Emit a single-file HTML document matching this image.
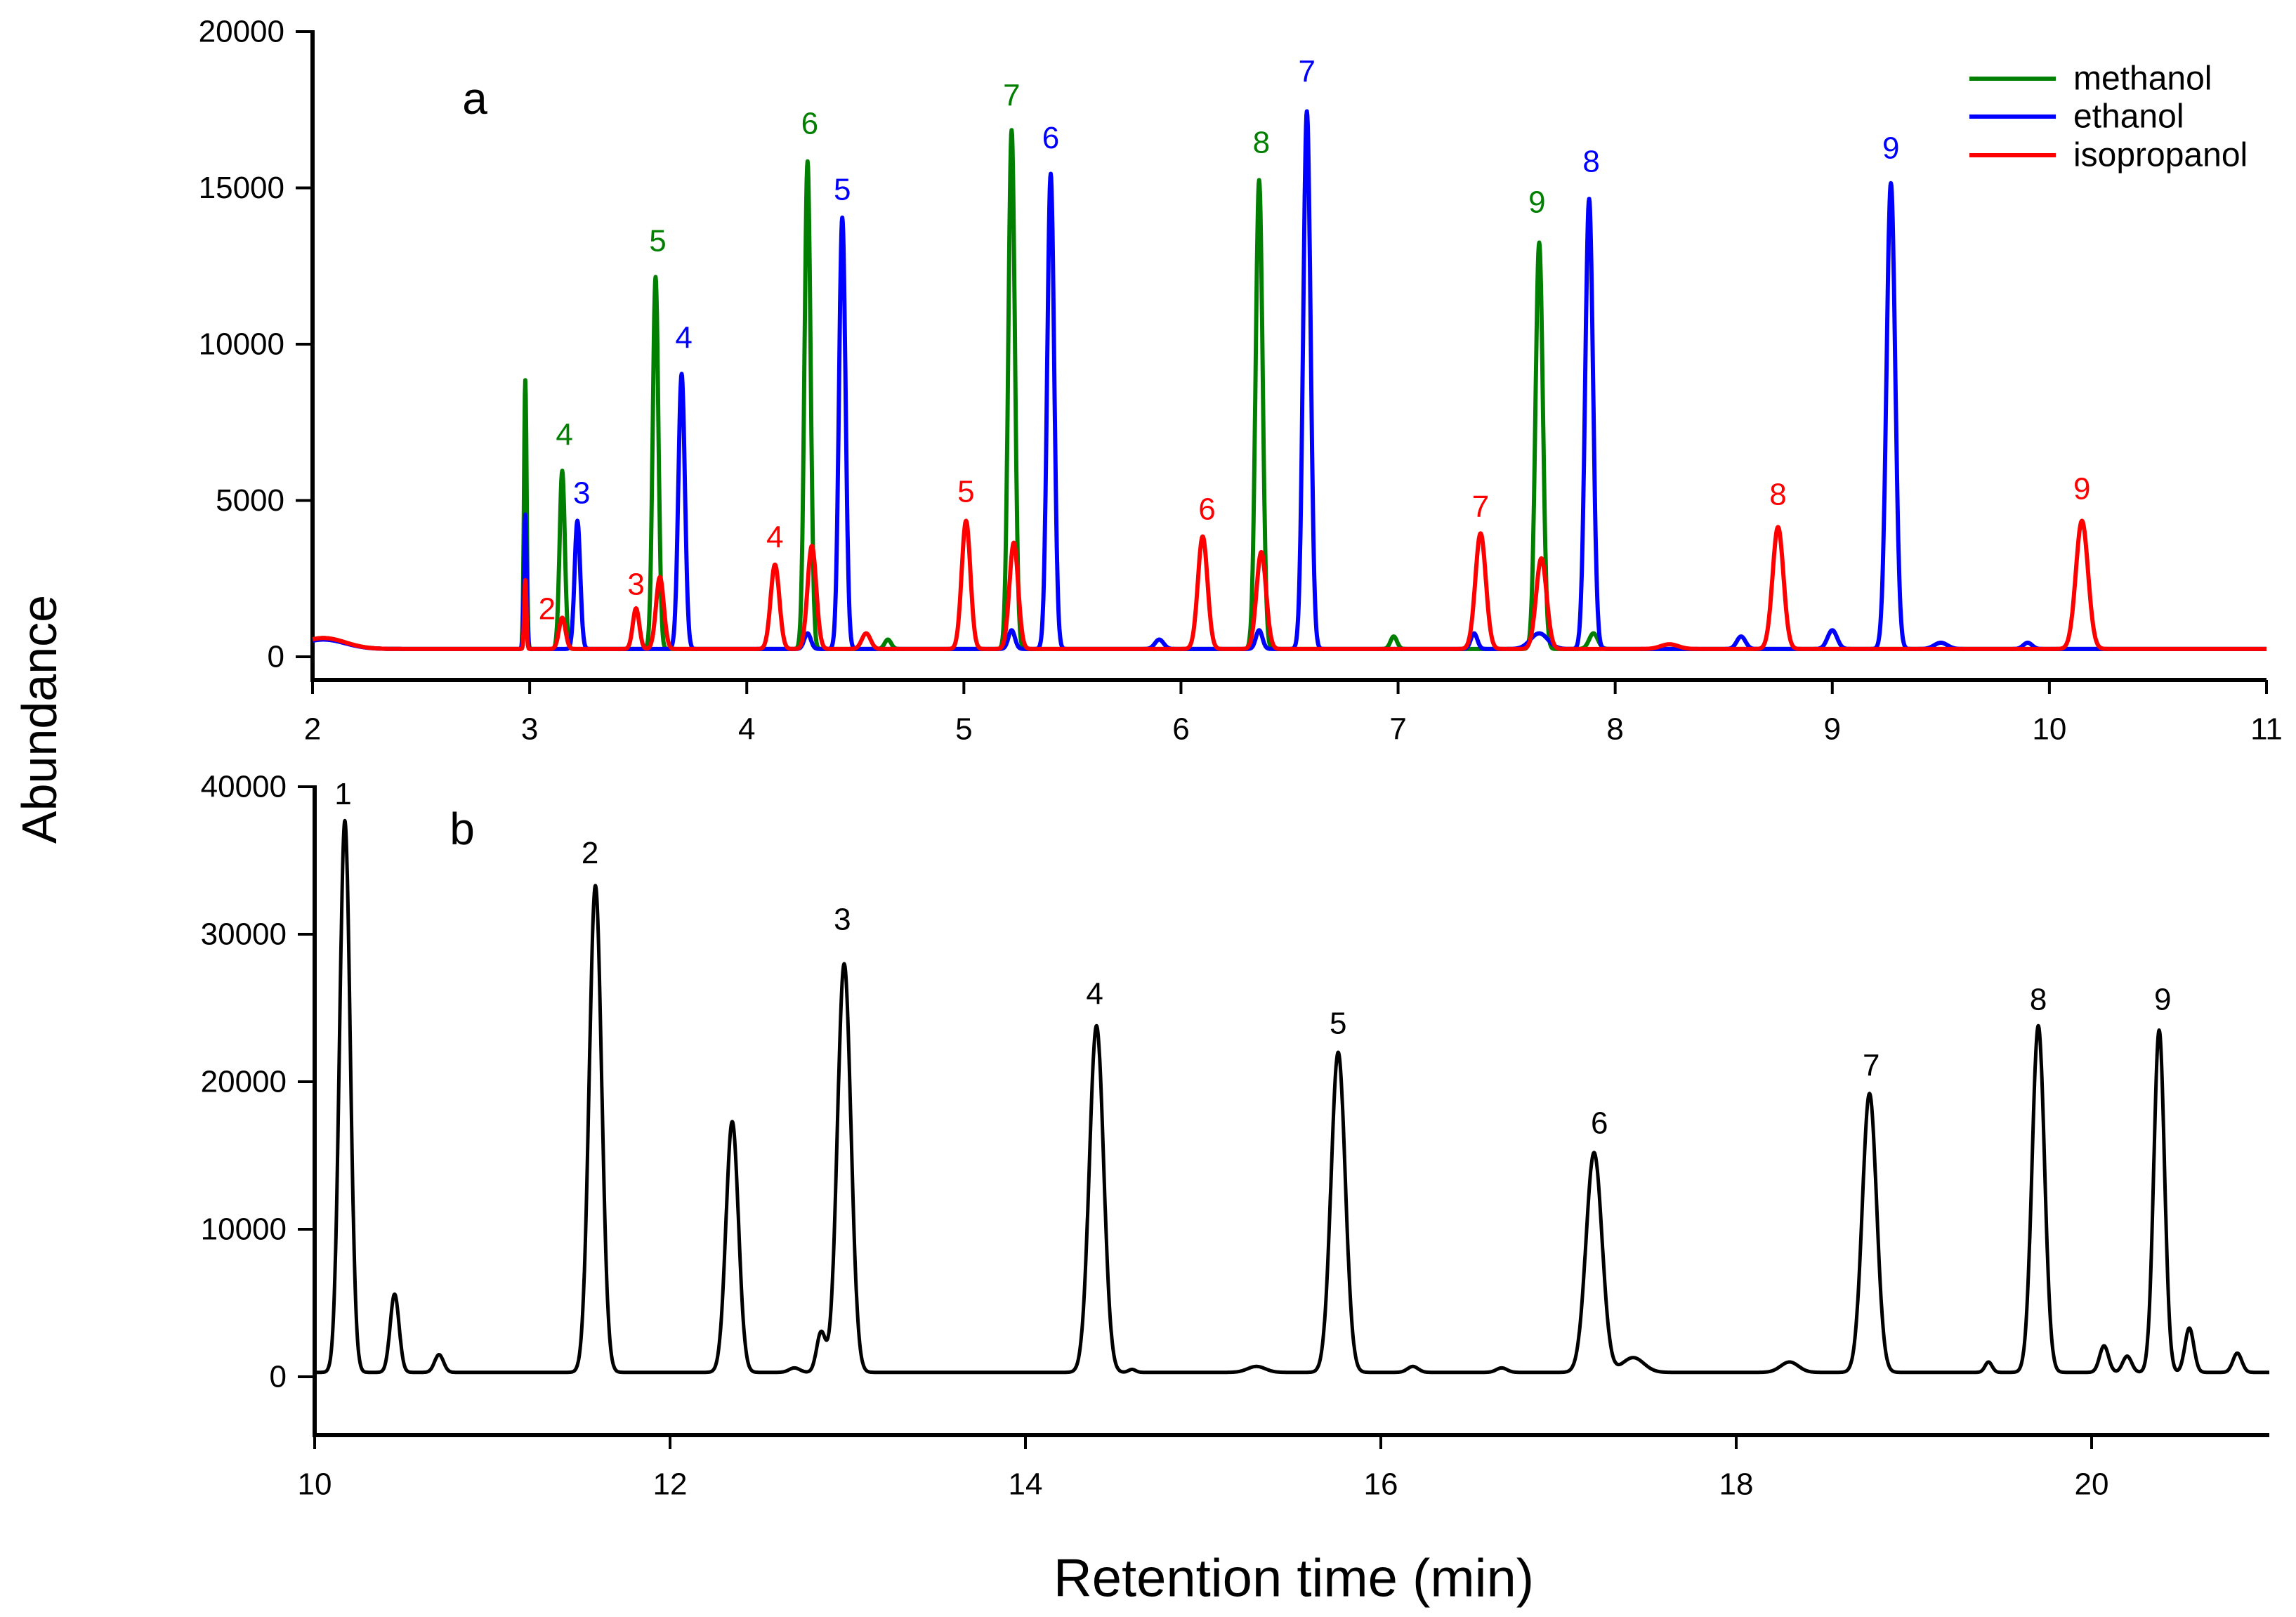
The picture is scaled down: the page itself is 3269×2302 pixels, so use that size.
<!DOCTYPE html>
<html><head><meta charset="utf-8">
<style>
html,body{margin:0;padding:0;background:#fff;}
svg{display:block;}
text{font-family:"Liberation Sans",Arial,sans-serif;}
</style></head>
<body>
<svg id="chart" width="3269" height="2302" viewBox="0 0 3269 2302" xmlns="http://www.w3.org/2000/svg">
<g id="panelA"></g>
<g id="panelB"></g>
<text x="56" y="1024" font-size="70" text-anchor="middle" dominant-baseline="central" transform="rotate(-90 56 1024)">Abundance</text>
<text x="1842" y="2247" font-size="76" text-anchor="middle" dominant-baseline="central">Retention time (min)</text>
<g>
  <line x1="2804" y1="112" x2="2927" y2="112" stroke="#007f00" stroke-width="6"/>
  <text x="2952" y="112" font-size="48" dominant-baseline="central">methanol</text>
  <line x1="2804" y1="166" x2="2927" y2="166" stroke="#0000ff" stroke-width="6"/>
  <text x="2952" y="166" font-size="48" dominant-baseline="central">ethanol</text>
  <line x1="2804" y1="221" x2="2927" y2="221" stroke="#ff0000" stroke-width="6"/>
  <text x="2952" y="221" font-size="48" dominant-baseline="central">isopropanol</text>
</g>
</svg>
<script>
// ---- Panel a data ----
const aXTicks = [2,3,4,5,6,7,8,9,10,11];
const aYTicks = [0,5000,10000,15000,20000];
const meTimes   = [2.05,2.98,3.15,3.58,4.28,4.65,5.22,6.36,6.98,7.65,7.90];
const meHeights = [350,8600,5700,11900,15600,300,16600,15000,400,13000,500];
const meWidths  = [0.1,0.006,0.012,0.013,0.014,0.015,0.015,0.016,0.015,0.017,0.02];
const etTimes   = [2.05,2.98,3.22,3.70,4.28,4.44,5.22,5.40,5.90,6.36,6.58,7.35,7.65,7.88,8.58,9.00,9.27,9.50,9.90];
const etHeights = [300,4300,4100,8800,500,13800,600,15200,300,600,17200,500,500,14400,400,600,14900,200,200];
const etWidths  = [0.1,0.006,0.013,0.015,0.015,0.015,0.015,0.016,0.02,0.015,0.017,0.015,0.04,0.018,0.02,0.022,0.02,0.03,0.02];
const ipTimes   = [2.05,2.98,3.15,3.49,3.60,4.13,4.30,4.55,5.01,5.23,6.10,6.37,7.38,7.66,8.25,8.75,10.15];
const ipHeights = [350,2200,1000,1300,2300,2700,3300,500,4100,3400,3600,3100,3700,2900,150,3900,4100];
const ipWidths  = [0.1,0.005,0.015,0.015,0.018,0.02,0.02,0.02,0.02,0.02,0.022,0.022,0.024,0.024,0.04,0.025,0.028];
const aBase = 250;
const meLabels = ["4","5","6","7","8","9"], meLabT = [3.16,3.59,4.29,5.22,6.37,7.64], meLabY = [7100,13300,17060,17950,16450,14540];
const etLabels = ["3","4","5","6","7","8","9"], etLabT = [3.24,3.71,4.44,5.40,6.58,7.89,9.27], etLabY = [5240,10200,14940,16600,18720,15840,16270];
const ipLabels = ["2","3","4","5","6","7","8","9"], ipLabT = [3.08,3.49,4.13,5.01,6.12,7.38,8.75,10.15], ipLabY = [1530,2310,3820,5280,4720,4800,5190,5370];
// ---- Panel b data ----
const bXTicks = [10,12,14,16,18,20];
const bYTicks = [0,10000,20000,30000,40000];
const bTimes   = [10.17,10.45,10.70,11.58,12.35,12.70,12.85,12.98,14.40,14.60,15.30,15.76,16.18,16.68,17.20,17.42,18.30,18.75,19.42,19.70,20.07,20.20,20.38,20.55,20.82];
const bHeights = [37400,5300,1200,33000,17000,300,2700,27700,23500,200,400,21700,400,300,14900,1000,700,18900,700,23500,1800,1100,23200,3000,1300];
const bWidths  = [0.03,0.025,0.025,0.035,0.035,0.03,0.025,0.038,0.04,0.02,0.05,0.04,0.03,0.03,0.045,0.06,0.05,0.04,0.02,0.035,0.025,0.025,0.03,0.025,0.025];
const bBase = 300;
const bLabels = ["1","2","3","4","5","6","7","8","9"];
const bLabT = [10.16,11.55,12.97,14.39,15.76,17.23,18.76,19.70,20.40];
const bLabY = [39500,35500,31000,25950,23950,17190,21100,25570,25570];

const NS = "http://www.w3.org/2000/svg";
function mk(tag, attrs, parent){const e=document.createElementNS(NS,tag);for(const k in attrs)e.setAttribute(k,attrs[k]);parent.appendChild(e);return e;}

const ax = {x0:445,x1:3227,t0:2,t1:11,y0:935,y1:45,v0:0,v1:20000,axisY:968};
const bx = {x0:448,x1:3231,t0:10,t1:21,y0:1960,y1:1120,v0:0,v1:40000,axisY:2043};
function sx(p,t){return p.x0+(t-p.t0)/(p.t1-p.t0)*(p.x1-p.x0);}
function sy(p,v){return p.y0+(v-p.v0)/(p.v1-p.v0)*(p.y1-p.y0);}

function signal(t,times,heights,widths,base){
  let v=base;
  for(let i=0;i<times.length;i++){const d=(t-times[i])/widths[i];v+=heights[i]*Math.exp(-0.5*d*d);}
  return v;
}
function trace(p,g,times,heights,widths,base,color,sw,name){
  let d="";
  for(let t=p.t0;t<=p.t1+1e-9;t+=0.002){
    const v=signal(t,times,heights,widths,base);
    d+=(d?"L":"M")+sx(p,t).toFixed(1)+" "+sy(p,v).toFixed(1);
  }
  const path=mk("path",{d:d,fill:"none",stroke:color,"stroke-width":sw,"stroke-linejoin":"round"},g);
  
  
}
function axes(p,g,xt,yt,prefix){
  const yl=mk("line",{x1:p.x0,y1:p.y1-2,x2:p.x0,y2:p.axisY,stroke:"#000","stroke-width":6},g);
  
  
  const xl=mk("line",{x1:p.x0-3,y1:p.axisY,x2:p.x1,y2:p.axisY,stroke:"#000","stroke-width":6},g);
  
  
  xt.forEach(t=>{
    const x=sx(p,t);
    const tk=mk("line",{x1:x,y1:p.axisY,x2:x,y2:p.axisY+20,stroke:"#000","stroke-width":4},g);
    
    
    const tx=mk("text",{x:x,y:p.axisY+70,"font-size":44,"text-anchor":"middle","dominant-baseline":"central"},g);
    tx.textContent=t;
    
    
  });
  yt.forEach(v=>{
    const y=sy(p,v);
    const tk=mk("line",{x1:p.x0-24,y1:y,x2:p.x0,y2:y,stroke:"#000","stroke-width":4},g);
    
    
    const tx=mk("text",{x:p.x0-40,y:y,"font-size":44,"text-anchor":"end","dominant-baseline":"central"},g);
    tx.textContent=v;
    
    
  });
}
function labels(p,g,txt,ts,vs,color,name){
  for(let i=0;i<txt.length;i++){
    const e=mk("text",{x:sx(p,ts[i]),y:sy(p,vs[i]),"font-size":44,"text-anchor":"middle","dominant-baseline":"central",fill:color},g);
    e.textContent=txt[i];
    
    
  }
}

const gA=document.getElementById("panelA");
axes(ax,gA,aXTicks,aYTicks,"panel-a");
trace(ax,gA,meTimes,meHeights,meWidths,aBase,"#007f00",6,"methanol-trace");
trace(ax,gA,etTimes,etHeights,etWidths,aBase,"#0000ff",6,"ethanol-trace");
trace(ax,gA,ipTimes,ipHeights,ipWidths,aBase,"#ff0000",6,"isopropanol-trace");
labels(ax,gA,meLabels,meLabT,meLabY,"#007f00","methanol-peak-label");
labels(ax,gA,etLabels,etLabT,etLabY,"#0000ff","ethanol-peak-label");
labels(ax,gA,ipLabels,ipLabT,ipLabY,"#ff0000","isopropanol-peak-label");
const la=mk("text",{x:676,y:140,"font-size":64,"text-anchor":"middle","dominant-baseline":"central"},gA);
la.textContent="a";



const gB=document.getElementById("panelB");
axes(bx,gB,bXTicks,bYTicks,"panel-b");
trace(bx,gB,bTimes,bHeights,bWidths,bBase,"#000",5,"sample-trace");
labels(bx,gB,bLabels,bLabT,bLabY,"#000","sample-peak-label");
const lb=mk("text",{x:658,y:1180,"font-size":64,"text-anchor":"middle","dominant-baseline":"central"},gB);
lb.textContent="b";


</script>
</body></html>
